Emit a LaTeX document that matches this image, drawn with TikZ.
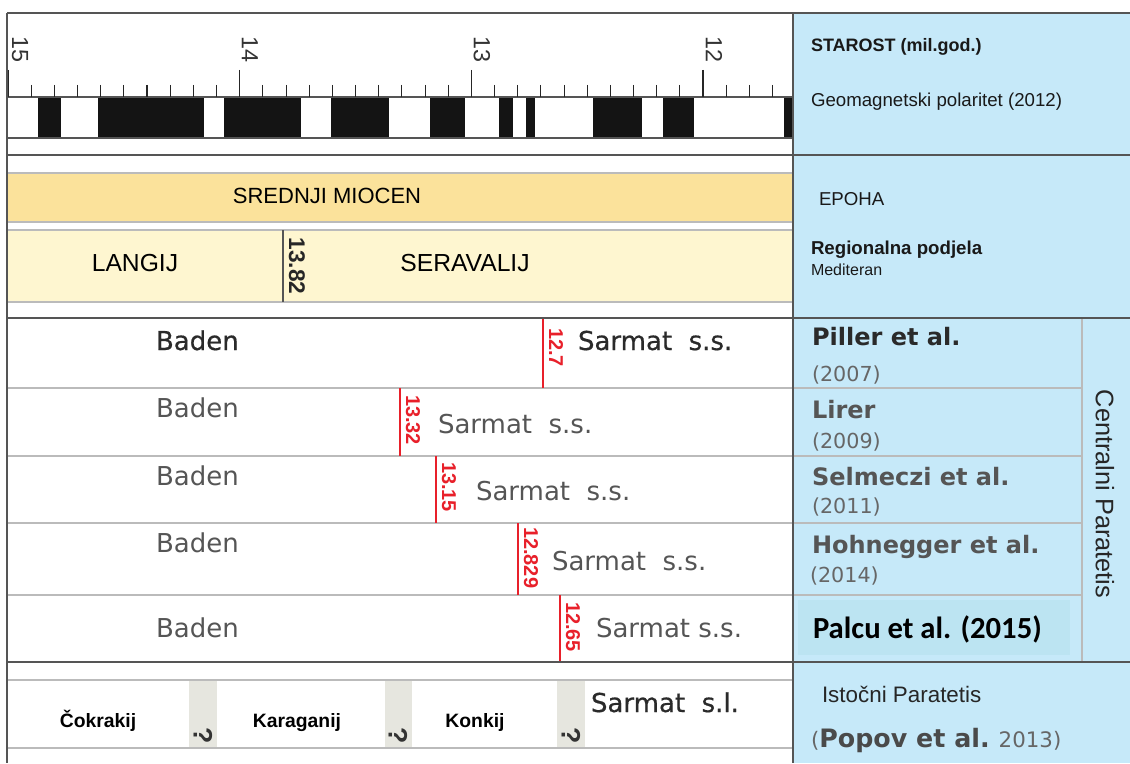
\documentclass[tikz,border=0pt]{standalone}
\usepackage{fontspec}
\setmainfont{Liberation Sans}
\newfontfamily\djv{DejaVu Sans}
\newfontfamily\djvfb[FakeBold=0.6]{DejaVu Sans}
\newfontfamily\carl{Carlito}
\newcommand{\myfs}[1]{\fontsize{#1}{#1}\selectfont}
\definecolor{panelblue}{HTML}{C6E9F9}
\definecolor{palcublue}{HTML}{BCE4F2}
\definecolor{miocen}{HTML}{FBE29B}
\definecolor{langij}{HTML}{FEF6D0}
\definecolor{qgray}{HTML}{E6E6DF}
\definecolor{redline}{HTML}{E8202A}
\definecolor{framec}{HTML}{555555}
\definecolor{rowline}{HTML}{BBBBBB}
\definecolor{txtgray}{HTML}{555555}
\definecolor{txtdark}{HTML}{2A2A2A}
\definecolor{yeargray}{HTML}{666666}
\definecolor{tickgray}{HTML}{333333}
\begin{document}
\begin{tikzpicture}[x=0.75pt,y=-0.75pt,
  every node/.style={inner sep=0pt, outer sep=0pt},
  framel/.style={draw=framec, line width=1.8pt},
  rowl/.style={draw=rowline, line width=1.1pt},
  thinl/.style={draw=framec, line width=0.8pt},
  bandb/.style={draw=rowline, line width=0.8pt},
  redl/.style={draw=redline, line width=0.9pt},
  tickl/.style={draw=black!85, line width=0.8pt},
  redlab/.style={rotate=-90, anchor=west, text=redline, font=\bfseries\myfs{15pt}},
  ticklab/.style={rotate=-90, text=tickgray, font=\myfs{17.5pt}},
  stage/.style={font=\myfs{18.5pt}, text=black},
  baden/.style={anchor=base west, font=\djv\myfs{19.5pt}, text=txtgray},
  badenone/.style={anchor=base west, font=\djvfb\myfs{19.5pt}, text=txtdark},
  author/.style={anchor=base west, font=\djv\bfseries\myfs{18pt}, text=txtdark!80},
  year/.style={anchor=base west, font=\djv\myfs{15.5pt}, text=yeargray},
  paneltxt/.style={anchor=base west, font=\myfs{14pt}, text=black!90},
  eastst/.style={anchor=base, font=\bfseries\myfs{14.5pt}, text=black},
  qmark/.style={rotate=-90, font=\bfseries\myfs{20pt}, text=black!80}
]
\useasboundingbox (0,0) rectangle (1130,763);
\fill[white] (0,0) rectangle (1130,763);
% right panel
\fill[panelblue] (793,13) rectangle (1130,763);
\fill[palcublue] (798,600) rectangle (1070,655);
% bands
\fill[miocen] (7,173) rectangle (793,222);
\draw[bandb] (7,173) -- (793,173) (7,222) -- (793,222);
\fill[langij] (7,230) rectangle (793,302);
\draw[bandb] (7,230) -- (793,230) (7,302) -- (793,302);
\draw[thinl, line width=1.2pt] (283,230) -- (283,302);
% polarity bands
\foreach \a/\b in {38/61, 98/204, 224/301, 331/389, 430/465, 499/513, 526/535, 593/642, 663/694, 784/793}
  \fill[black!92] (\a,97) rectangle (\b,138);
\draw[thinl] (7,97) -- (793,97);
\draw[thinl] (7,138) -- (793,138);
% ticks
\foreach \i in {0,...,33} {
  \pgfmathsetmacro{\xx}{8+\i*23.17}
  \pgfmathtruncatemacro{\m}{mod(\i,10)}
  \ifnum\m=0 \draw[tickl, line width=1.1pt] (\xx,70) -- (\xx,97); \else \draw[tickl] (\xx,85) -- (\xx,97); \fi
}
\node[ticklab] (t15) at (20,49.5) {15};
\node[ticklab] (t14) at (250,49.5) {14};
\node[ticklab] (t13) at (482,49.5) {13};
\node[ticklab] (t12) at (714,49.5) {12};
% row lines
\foreach \y in {388,456,523,595}
  \draw[rowl] (7,\y) -- (1082,\y);
\draw[rowl] (1082,318) -- (1082,662);
\draw[rowl] (7,680) -- (793,680) (7,748) -- (793,748);
% question boxes
\foreach \a/\b in {189/217, 385/412, 557/585} {
  \fill[qgray] (\a,681) rectangle (\b,747);
}
\node[qmark] (qa) at (203,736) {?};
\node[qmark] (qb) at (398,736) {?};
\node[qmark] (qc) at (571,736) {?};
% red boundaries
\draw[redl] (543,318) -- (543,388);
\draw[redl] (400,388) -- (400,456);
\draw[redl] (436,456) -- (436,523);
\draw[redl] (518,523) -- (518,595);
\draw[redl] (560,595) -- (560,662);
\node[redlab] (r1) at (556,328) {12.7};
\node[redlab] (r2) at (413,395) {13.32};
\node[redlab] (r3) at (449,462) {13.15};
\node[redlab] (r4) at (531,527) {12.829};
\node[redlab] (r5) at (573,602) {12.65};
% frame lines
\draw[framel] (7,13) -- (1130,13);
\draw[framel] (7,13) -- (7,763);
\draw[framel] (793,13) -- (793,763);
\draw[framel] (7,155) -- (1130,155);
\draw[framel] (7,318) -- (1130,318);
\draw[framel] (7,662) -- (1130,662);
% epoch / stage texts
\node[anchor=base, font=\myfs{16.5pt}] (mioc) at (327,203) {SREDNJI MIOCEN};
\node[stage, anchor=base] (lang) at (135,271) {LANGIJ};
\node[stage, anchor=base] (serav) at (465,271) {SERAVALIJ};
\node[rotate=-90, font=\bfseries\myfs{17pt}, text=black!85] (b1382) at (297,266) {13.82};
% Baden / Sarmat
\node[badenone] (bad1) at (156,350) {Baden};
\node[badenone] (sar1) at (578,350) {Sarmat\ \ s.s.};
\node[baden] (bad2) at (156,417) {Baden};
\node[baden] (sar2) at (438,433) {Sarmat\ \ s.s.};
\node[baden] (bad3) at (156,485) {Baden};
\node[baden] (sar3) at (476,500) {Sarmat\ \ s.s.};
\node[baden] (bad4) at (156,552) {Baden};
\node[baden] (sar4) at (552,570) {Sarmat\ \ s.s.};
\node[baden] (bad5) at (156,637) {Baden};
\node[baden] (sar5) at (596,637) {Sarmat\ s.s.};
% eastern paratethys
\node[eastst] (cok) at (98,727) {Čokrakij};
\node[eastst] (kar) at (297,727) {Karaganij};
\node[eastst] (kon) at (475,727) {Konkij};
\node[badenone] (sarsl) at (591,712) {Sarmat\ \ s.l.};
% right panel texts
\node[paneltxt, font=\bfseries\myfs{13.5pt}] (star) at (811,52) {STAROST (mil.god.)};
\node[paneltxt] (geo) at (811,107) {Geomagnetski polaritet (2012)};
\node[paneltxt] (epoha) at (819,205) {EPOHA};
\node[paneltxt, font=\bfseries\myfs{14pt}] (regio) at (811,254) {Regionalna podjela};
\node[paneltxt, font=\myfs{12pt}] (medit) at (811,275) {Mediteran};
\node[author, text=txtdark] (piller) at (812,345) {Piller et al.};
\node[year] (y07) at (812,381) {(2007)};
\node[author] (lirer) at (812,418) {Lirer};
\node[year] (y09) at (812,448) {(2009)};
\node[author] (selm) at (812,485) {Selmeczi et al.};
\node[year] (y11) at (812,513) {(2011)};
\node[author] (hohn) at (812,553) {Hohnegger et al.};
\node[year] (y14) at (810,582) {(2014)};
\node[anchor=base west, font=\carl\bfseries\myfs{23pt}, text=black] (palcu) at (813,638) {Palcu et al. (2015)};
\node[rotate=-90, font=\myfs{19pt}, text=black!85] (cpar) at (1105,494) {Centralni Paratetis};
\node[anchor=base west, font=\myfs{16.8pt}, text=black!85] (istoc) at (822,702) {Istočni Paratetis};
\node[anchor=base west, font=\djv\myfs{16pt}, text=yeargray] (popov) at (811,747) {(\textcolor{txtdark!85}{\bfseries\myfs{19pt}Popov et al.} 2013)};
\end{tikzpicture}
\end{document}
